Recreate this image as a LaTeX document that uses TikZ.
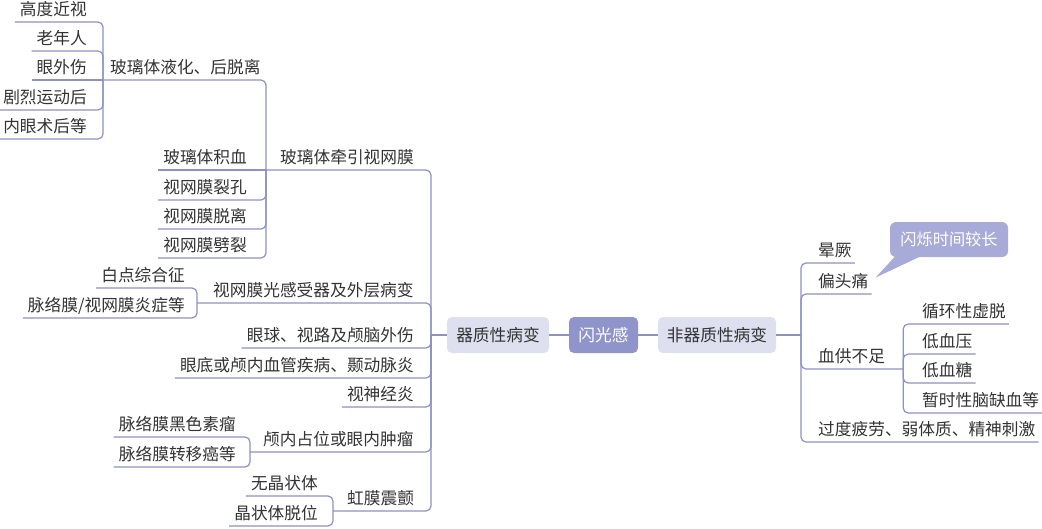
\documentclass[tikz,border=0pt]{standalone}
\usepackage{fontspec}
\newfontfamily\cjk{Noto Sans CJK SC}
\definecolor{linec}{HTML}{8D91C7}
\definecolor{boxl}{HTML}{DFE0EF}
\definecolor{boxd}{HTML}{8F94CA}
\definecolor{calloutc}{HTML}{A8ABD8}
\definecolor{textc}{HTML}{333333}
\begin{document}
\begin{tikzpicture}[x=1pt,y=-1pt,
  conn/.style={draw=linec, line width=1.2pt, rounded corners=5pt},
  pad/.style 2 args={execute at begin node={\hspace*{#1}}, execute at end node={\hspace*{#2}}},
  lab/.style={font=\cjk\fontsize{16.7}{20}\selectfont, text=textc, inner xsep=0pt, inner ysep=0pt, text height=12pt, text depth=6pt},
  ll/.style={lab, anchor=south east, pad={5pt}{#1}}, ll/.default=15pt,
  lp/.style={lab, anchor=south west, pad={#1}{2pt}},
  rl/.style={lab, anchor=south west, pad={17pt}{#1}}, rl/.default=3pt,
  rc/.style={lab, anchor=south west, pad={19pt}{3pt}},
  box/.style={rounded corners=5pt, fill=boxl, text=textc, font=\cjk\fontsize{16.7}{20}\selectfont, minimum height=36pt, inner sep=0pt},
  cbox/.style={box, fill=boxd, text=white},
  cobox/.style={rounded corners=6pt, fill=calloutc, text=white, font=\cjk\fontsize{16.2}{20}\selectfont, minimum height=35pt, minimum width=118pt, inner sep=0pt}
]
\fill[white] (0,0) rectangle (1042,528);
\useasboundingbox (0,0) rectangle (1042,528);

% central boxes
\coordinate (LV) at (431,335);
\coordinate (RV) at (801,335);
\node[box, minimum width=102pt] (L) at (498,335) {器质性病变};
\node[cbox, minimum width=69pt] (C) at (603.5,335) {闪光感};
\node[box, minimum width=118pt] (R) at (717,335) {非器质性病变};

% left level 1
\node[lp=14pt] (A) at (266,170) {玻璃体牵引视网膜};
\node[lp=16pt] (B) at (197,303) {视网膜光感受器及外层病变};
\node[ll=17pt] (C1) at (431,348) {眼球、视路及颅脑外伤};
\node[ll=17pt] (D) at (431,378) {眼底或颅内血管疾病、颞动脉炎};
\node[ll=17pt] (E) at (431,407) {视神经炎};
\node[lp=13pt] (F) at (250,452) {颅内占位或眼内肿瘤};
\node[lp=14pt] (G) at (333,511) {虹膜震颤};

% children of A
\node[lp=7pt] (A1) at (103,80) {玻璃体液化、后脱离};
\node[ll=19pt] (A2) at (266,170) {玻璃体积血};
\node[ll=19pt] (A3) at (266,200) {视网膜裂孔};
\node[ll=19pt] (A4) at (266,229) {视网膜脱离};
\node[ll=19pt] (A5) at (266,258) {视网膜劈裂};

% children of A1
\node[ll=16pt] (A11) at (103,22) {高度近视};
\node[ll=16pt] (A12) at (103,51) {老年人};
\node[ll=16pt] (A13) at (103,80) {眼外伤};
\node[ll=16pt] (A14) at (103,110) {剧烈运动后};
\node[ll=16pt] (A15) at (103,139) {内眼术后等};

% children of B, F, G
\node[ll=12pt] (B1) at (197,288) {白点综合征};
\node[ll=12pt] (B2) at (197,318) {脉络膜/视网膜炎症等};
\node[ll=14pt] (F1) at (250,437) {脉络膜黑色素瘤};
\node[ll=14pt] (F2) at (250,467) {脉络膜转移癌等};
\node[ll=15pt] (G1) at (333,496) {无晶状体};
\node[ll=15pt] (G2) at (333,526) {晶状体脱位};

% right side
\node[rl] (R1) at (801,263) {晕厥};
\node[rl] (R2) at (801,294) {偏头痛};
\node[rl=18pt] (R3) at (801,369) {血供不足};
\node[rl] (R4) at (801,442) {过度疲劳、弱体质、精神刺激};
\node[rc] (R31) at (903,324) {循环性虚脱};
\node[rc] (R32) at (903,354) {低血压};
\node[rc] (R33) at (903,383) {低血糖};
\node[rc] (R34) at (903,413) {暂时性脑缺血等};

% connectors
\draw[conn] (L.west) -- (LV);
\draw[conn] (L.east) -- (C.west);
\draw[conn] (C.east) -- (R.west);
\draw[conn] (R.east) -- (RV);
\foreach \n in {A,B,C1,D,E,F,G} \draw[conn] (LV) |- (\n.south west);
\foreach \n in {R1,R2,R3,R4} \draw[conn] (RV) |- (\n.south east);
\draw[conn] (A.south west) -- (A2.south west);
\foreach \n in {A1,A3,A4,A5} \draw[conn] (A.south west) |- (\n.south west);
\draw[conn] (A1.south west) -- (A13.south west);
\foreach \n in {A11,A12,A14,A15} \draw[conn] (A1.south west) |- (\n.south west);
\foreach \n in {B1,B2} \draw[conn] (B.south west) |- (\n.south west);
\foreach \n in {F1,F2} \draw[conn] (F.south west) |- (\n.south west);
\foreach \n in {G1,G2} \draw[conn] (G.south west) |- (\n.south west);
\foreach \n in {R31,R32,R33,R34} \draw[conn] (R3.south east) |- (\n.south east);

% callout
\node[cobox] (CO) at (949,239.5) {闪烁时间较长};
\fill[calloutc] ([xshift=5pt,yshift=0.5pt]CO.south west) -- ([xshift=30pt,yshift=0.5pt]CO.south west) -- ([xshift=4pt,yshift=-2pt]R2.north east) -- cycle;
\end{tikzpicture}
\end{document}
